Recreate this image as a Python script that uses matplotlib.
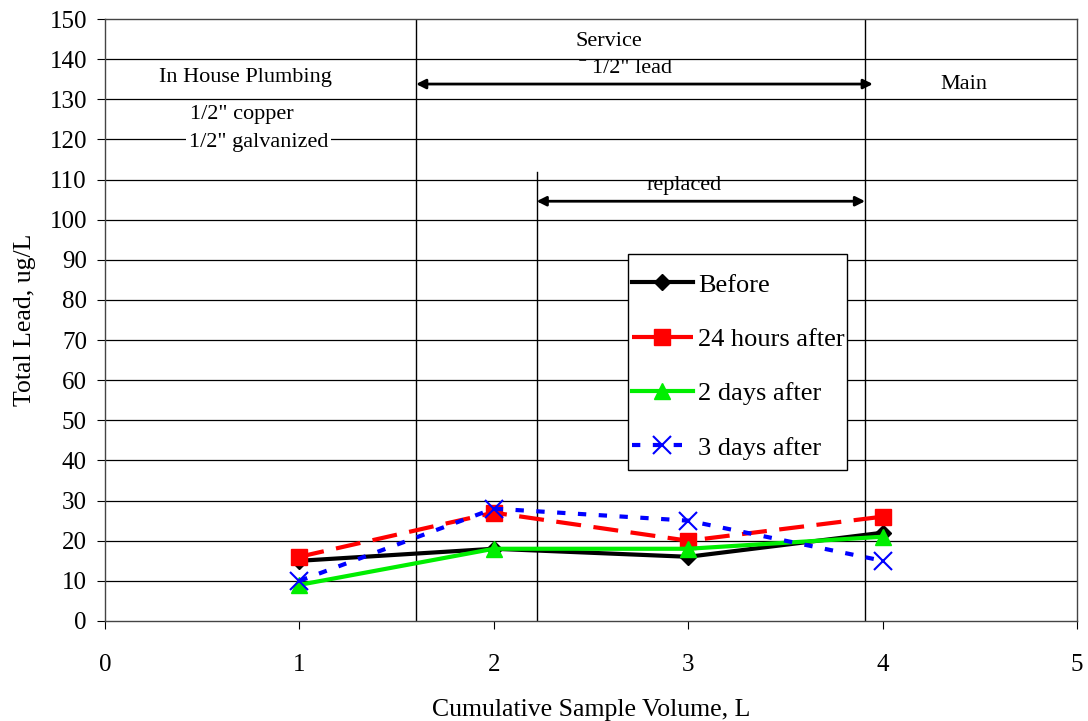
import matplotlib
matplotlib.use("Agg")
import matplotlib.pyplot as plt
from matplotlib.patches import Rectangle

plt.rcParams['font.family'] = ['Liberation Serif', 'DejaVu Serif']

volume = [1, 2, 3, 4]
before = [15, 18, 16, 22]
after_24h = [16, 27, 20, 26]
after_2d = [9, 18, 18, 21]
after_3d = [10, 28, 25, 15]

x_ticks = [0, 1, 2, 3, 4, 5]
y_ticks = list(range(0, 151, 10))

fig = plt.figure(figsize=(10.88, 7.21), dpi=100)
ax = fig.add_axes([0.0965, 0.1387, 0.8934, 0.8349])

ax.set_xlim(0, 5)
ax.set_ylim(0, 150)
ax.set_xticks(x_ticks)
ax.set_yticks(y_ticks)
ax.tick_params(labelsize=18, length=6, color="black")
ax.tick_params(axis="y", pad=7)
ax.tick_params(axis="x", pad=18)
for y in y_ticks[1:-1]:
    ax.axhline(y, color="black", lw=0.9, zorder=0)
for s in ax.spines.values():
    s.set_color("#444444")
    s.set_linewidth(1.0)

# section boundaries
ax.axvline(1.6, color="black", lw=1.0, zorder=1)
ax.axvline(3.91, color="black", lw=1.0, zorder=1)
ax.plot([2.22, 2.22], [0, 112], color="black", lw=1.0, zorder=1)

arrow = dict(arrowstyle="<|-|>", color="black", lw=2, mutation_scale=14, shrinkA=0, shrinkB=0)
ax.annotate("", xy=(1.6, 133.8), xytext=(3.95, 133.8), arrowprops=arrow)
ax.annotate("", xy=(2.22, 104.6), xytext=(3.91, 104.6), arrowprops=arrow)

fs = 16
ax.text(2.59, 144.5, "Service", ha="center", va="center", fontsize=fs)
ax.text(2.68, 137.7, "ˉ 1/2\" lead", ha="center", va="center", fontsize=fs)
ax.text(2.98, 108.4, "replaced", ha="center", va="center", fontsize=fs)
ax.text(4.42, 133.6, "Main", ha="center", va="center", fontsize=fs)
ax.text(0.725, 135.5, "In House Plumbing", ha="center", va="center", fontsize=fs)
ax.text(0.705, 126.2, "1/2\" copper", ha="center", va="center", fontsize=fs)
ax.text(0.79, 119.2, "1/2\" galvanized", ha="center", va="center", fontsize=fs,
        bbox=dict(facecolor="white", edgecolor="none", pad=2))

ax.plot(volume, before, color="black", lw=3, marker="D", ms=8, label="Before", zorder=3)
ax.plot(volume, after_24h, color="red", lw=3, ls=(0, (6, 3)), marker="s", ms=11,
        label="24 hours after", zorder=3)
ax.plot(volume, after_2d, color="#00ee00", lw=3, marker="^", ms=11, label="2 days after", zorder=3)
ax.plot(volume, after_3d, color="blue", lw=3, ls=(0, (2, 3)), marker="x", ms=13, mew=1.5,
        label="3 days after", zorder=3)

ax.set_xlabel("Cumulative Sample Volume, L", fontsize=18.5, labelpad=16)
ax.set_ylabel("Total Lead, ug/L", fontsize=18.5, labelpad=10)

# legend box drawn separately so it can hug the text
ax.add_patch(Rectangle((0.538, 0.2508), 0.225, 0.3588, transform=ax.transAxes,
                       facecolor="white", edgecolor="black", lw=1.0, zorder=4))
leg = ax.legend(loc="upper left", bbox_to_anchor=(0.5422, 0.578), fontsize=19, frameon=False,
                handlelength=2.3, handletextpad=0.19, labelspacing=1.17, borderpad=0,
                borderaxespad=0)
leg.set_zorder(5)

fig.savefig("out.png", dpi=100)
